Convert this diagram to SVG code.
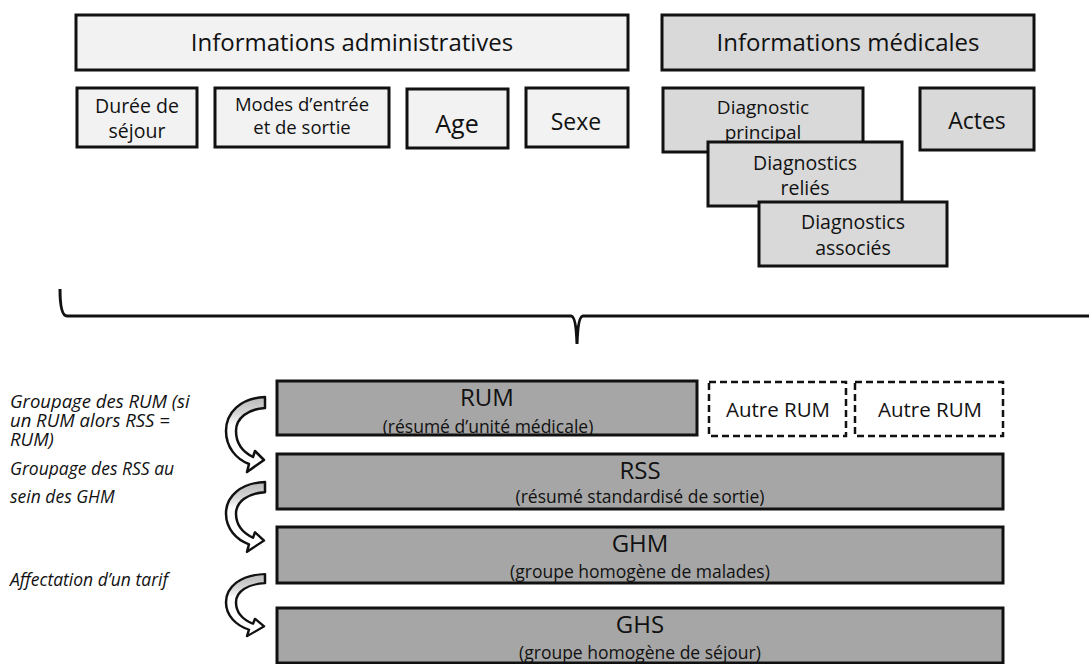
<svg xmlns="http://www.w3.org/2000/svg" width="1089" height="664" viewBox="0 0 1089 664">
<style>
text{font-family:"Open Sans","Noto Sans",sans-serif;fill:#111;text-anchor:middle}
.box{stroke:#111;stroke-width:3}
.adm{fill:#f2f2f2}
.med{fill:#d9d9d9}
.flow{fill:#a6a6a6}
.dash{fill:#fff;stroke:#111;stroke-width:2.5;stroke-dasharray:7 4}
.lbl{font-style:italic;text-anchor:start;font-size:17.5px}
.lbl1{font-size:18.5px}
.arrow{fill:url(#ag);stroke:#111;stroke-width:2.5;stroke-linejoin:round}
.t{font-size:24px}
.s{font-size:17.5px}
</style>
<defs>
<linearGradient id="ag" x1="0" y1="0" x2="0" y2="1">
<stop offset="0" stop-color="#b8b8b8"/>
<stop offset="0.22" stop-color="#d6d6d6"/>
<stop offset="0.38" stop-color="#ffffff"/>
<stop offset="1" stop-color="#ffffff"/>
</linearGradient>
<path id="carrow" d="M265 0 C240 1 226 16 226 34 C226 50 236 62 249 67 L247 75 L264 63 L255 54 L253 60 C243 55 236 46 236 34 C236 21 248 12 265 11 Z"/>
</defs>
<rect width="1089" height="664" fill="#fff"/>

<g id="admin-header"><rect class="box adm" x="76" y="15" width="552" height="55"/><text x="352" y="51" font-size="24">Informations administratives</text></g>
<g id="med-header"><rect class="box med" x="662" y="15" width="372" height="55"/><text x="848" y="51" font-size="24">Informations médicales</text></g>

<g id="duree"><rect class="box adm" x="77" y="88" width="120" height="59"/><text x="137" y="113" font-size="19.5">Durée de</text><text x="137" y="138" font-size="19.5">séjour</text></g>
<g id="modes"><rect class="box adm" x="215" y="88" width="174" height="59"/><text x="302" y="111" font-size="18.5">Modes d’entrée</text><text x="302" y="134" font-size="18.5">et de sortie</text></g>
<g id="age"><rect class="box adm" x="407" y="89" width="101" height="59"/><text x="457" y="133" font-size="25">Age</text></g>
<g id="sexe"><rect class="box adm" x="526" y="88" width="102" height="59"/><text x="576" y="130" font-size="23">Sexe</text></g>

<g id="dp"><rect class="box med" x="663" y="88" width="200" height="64"/><text x="763" y="114" font-size="19">Diagnostic</text><text x="763" y="139" font-size="19">principal</text></g>
<g id="actes"><rect class="box med" x="920" y="88" width="114" height="62"/><text x="977" y="129" font-size="23">Actes</text></g>
<g id="dr"><rect class="box med" x="708" y="142" width="194" height="64"/><text x="805" y="170" font-size="19.5">Diagnostics</text><text x="805" y="195" font-size="19.5">reliés</text></g>
<g id="da"><rect class="box med" x="759" y="202" width="188" height="64"/><text x="853" y="229" font-size="19.5">Diagnostics</text><text x="853" y="255" font-size="19.5">associés</text></g>

<g id="connectors">
<path d="M60 289 Q60 316 67 316 L571 316 Q576 316 577 344 Q578 316 583 316 L1089 316" fill="none" stroke="#111" stroke-width="3"/>
<use href="#carrow" class="arrow" transform="translate(0,397)"/>
<use href="#carrow" class="arrow" transform="translate(0,482) scale(1,0.93)"/>
<use href="#carrow" class="arrow" transform="translate(0,574) scale(1,0.83)"/>
</g>

<g id="rum"><rect class="box flow" x="277" y="381" width="420" height="54"/><text class="t" x="487" y="406">RUM</text><text class="s" x="488" y="433">(résumé d’unité médicale)</text></g>
<g id="autre1"><rect class="dash" x="709" y="382" width="137" height="54"/><text x="778" y="417" font-size="20.5">Autre RUM</text></g>
<g id="autre2"><rect class="dash" x="855" y="382" width="148" height="54"/><text x="930" y="417" font-size="20.5">Autre RUM</text></g>
<g id="rss"><rect class="box flow" x="277" y="454" width="726" height="55"/><text class="t" x="640" y="479">RSS</text><text class="s" x="640" y="503">(résumé standardisé de sortie)</text></g>
<g id="ghm"><rect class="box flow" x="277" y="527" width="726" height="56"/><text class="t" x="640" y="552">GHM</text><text class="s" x="640" y="578">(groupe homogène de malades)</text></g>
<g id="ghs"><rect class="box flow" x="277" y="608" width="726" height="55"/><text class="t" x="640" y="633">GHS</text><text class="s" x="640" y="659">(groupe homogène de séjour)</text></g>

<g id="labels">
<text class="lbl lbl1" x="10" y="408">Groupage des RUM (si</text>
<text class="lbl lbl1" x="10" y="427">un RUM alors RSS =</text>
<text class="lbl lbl1" x="10" y="446">RUM)</text>
<text class="lbl" x="10" y="475">Groupage des RSS au</text>
<text class="lbl" x="10" y="503">sein des GHM</text>
<text class="lbl" x="10" y="586">Affectation d’un tarif</text>
</g>
</svg>
